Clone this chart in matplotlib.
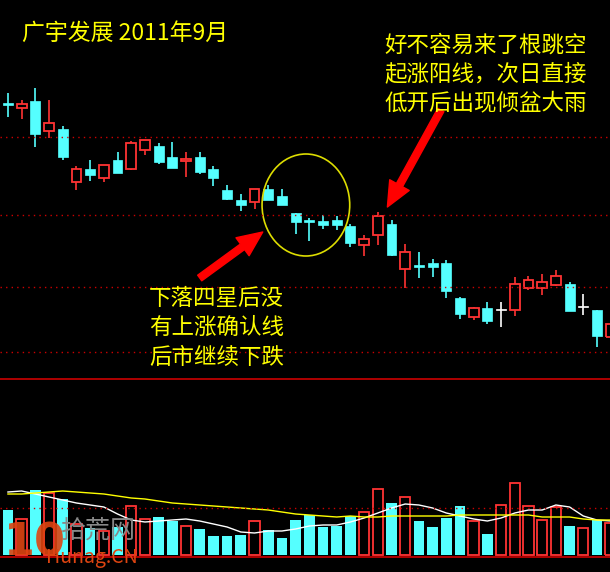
import matplotlib
matplotlib.use("Agg")
import matplotlib.pyplot as plt
from matplotlib.patches import Ellipse, Rectangle
import numpy as np

plt.rcParams['font.family'] = ['Noto Sans CJK SC', 'DejaVu Sans']

# 日K线 (开, 收, 高, 低)
opens  = [497, 492, 499, 469, 471, 418, 431, 422, 440, 431, 450, 454, 443, 439, 443,
          431, 410, 400, 398, 411, 404, 387, 380, 379, 380, 374, 355, 365, 376, 331,
          335, 337, 337, 302, 283, 292, 290, 290, 312, 312, 315, 316, 293, 290, 263]
closes = [495, 496, 466, 477, 443, 431, 425, 435, 427, 457, 460, 438, 432, 441, 428,
          422, 401, 395, 411, 400, 395, 378, 378, 375, 375, 357, 361, 384, 345, 348,
          333, 333, 309, 286, 292, 279, 290, 316, 320, 318, 324, 289, 293, 264, 276]
highs  = [507, 500, 512, 500, 474, 434, 440, 435, 448, 459, 460, 457, 458, 448, 448,
          434, 415, 406, 411, 415, 411, 387, 382, 385, 384, 376, 365, 388, 380, 356,
          348, 341, 340, 303, 293, 298, 298, 323, 324, 326, 330, 318, 306, 290, 280]
lows   = [483, 481, 453, 462, 440, 410, 419, 418, 427, 430, 445, 436, 432, 423, 426,
          414, 400, 389, 391, 400, 395, 366, 359, 371, 370, 353, 344, 355, 344, 312,
          322, 323, 302, 281, 280, 276, 273, 284, 310, 305, 314, 289, 285, 253, 260]

# 成交量及均量线
volume = [45, 36, 65, 62, 56, 31, 27, 24, 28, 49, 36, 38, 34, 29, 26,
          19, 19, 20, 34, 25, 17, 35, 40, 28, 29, 39, 43, 66, 52, 58,
          34, 28, 37, 49, 34, 21, 50, 72, 49, 35, 48, 29, 27, 35, 32]
vol_ma5 = [63, 64, 61, 58, 55, 52, 50, 48, 41, 35, 33, 34, 35, 36, 34,
           31, 28, 23, 22, 24, 24, 26, 29, 30, 30, 33, 37, 42, 47, 51,
           50, 47, 42, 39, 36, 34, 37, 42, 45, 45, 50, 48, 39, 35, 34]
vol_ma10 = [61, 61, 62, 63, 64, 63, 62, 61, 59, 57, 56, 54, 52, 51, 50,
            49, 48, 47, 46, 45, 43, 41, 40, 39, 38, 39, 38, 38, 39, 39,
            39, 39, 39, 40, 40, 40, 40, 40, 40, 38, 38, 38, 36, 35, 35]

UP = '#ff3333'
DOWN = '#55ffff'

fig = plt.figure(figsize=(6.10, 5.72), dpi=100, facecolor='black')
ax = fig.add_axes([0, 192 / 572, 1, 380 / 572], facecolor='black')
vax = fig.add_axes([0, 0, 1, 132 / 572], facecolor='black')

x = np.arange(len(opens))
bw = 0.72
for i in x:
    o, c, h, l = opens[i], closes[i], highs[i], lows[i]
    if c > o:
        col = UP
    elif c < o:
        col = DOWN
    else:
        col = 'white'
    lo, hi = min(o, c), max(o, c)
    if col == UP:
        ax.vlines(i, hi, h, color=col, lw=1.2)
        ax.vlines(i, l, lo, color=col, lw=1.2)
        ax.add_patch(Rectangle((i - bw / 2, lo), bw, hi - lo, fill=False, edgecolor=col, lw=1.3))
    else:
        ax.vlines(i, l, h, color=col, lw=1.2)
        ax.add_patch(Rectangle((i - bw / 2, lo), bw, max(hi - lo, 1.2), facecolor=col, edgecolor=col, lw=0.5))

for lvl in [463, 385, 313, 248]:
    ax.axhline(lvl, color='#cc0000', lw=1, ls=(0, (1, 3)))
ax.axhline(221, color='#cc0000', lw=1.2)
ax.set_xlim(-0.58, 43.95)
ax.set_ylim(220, 600)
ax.axis('off')

ax.add_patch(Ellipse((21.75, 395), 6.4, 102, fill=False, edgecolor='#dddd00', lw=1.2))
ax.annotate('', xy=(18.6, 368), xytext=(14.0, 322),
            arrowprops=dict(facecolor='#ff0000', edgecolor='#ff0000', width=5, headwidth=16, headlength=18))
ax.annotate('', xy=(27.7, 393), xytext=(31.6, 490),
            arrowprops=dict(facecolor='#ff0000', edgecolor='#ff0000', width=5, headwidth=16, headlength=18))

# 成交量
for i in x:
    if closes[i] >= opens[i]:
        vax.add_patch(Rectangle((i - 0.38, 0), 0.76, volume[i], fill=False, edgecolor=UP, lw=1.3))
    else:
        vax.bar(i, volume[i], 0.78, color=DOWN)
vax.plot(x, vol_ma5, color='white', lw=1)
vax.plot(x, vol_ma10, color='yellow', lw=1)
vax.axhline(47, color='#cc0000', lw=1, ls=(0, (1, 3)))
vax.axhline(-2, color='#cc0000', lw=1.2)
vax.set_xlim(-0.58, 43.95)
vax.set_ylim(-17, 115)
vax.axis('off')

fig.text(22 / 610, 1 - 33 / 572, '广宇发展 2011年9月', color='yellow', fontsize=16.5, va='center')
for k, s in enumerate(['好不容易来了根跳空', '起涨阳线，次日直接', '低开后出现倾盆大雨']):
    fig.text(384 / 610, 1 - (45 + 29 * k) / 572, s, color='yellow', fontsize=16.2, va='center')
for k, s in enumerate(['下落四星后没', '有上涨确认线', '后市继续下跌']):
    fig.text(149 / 610, 1 - (298 + 29.5 * k) / 572, s, color='yellow', fontsize=16.2, va='center')

# 水印
fig.text(4 / 610, 1 - 543 / 572, '10', color='#dd4411', fontsize=32, fontweight='bold',
         va='center', alpha=0.9, family='DejaVu Sans Condensed' if False else 'Liberation Sans Narrow')
fig.text(60 / 610, 1 - 531 / 572, '拾荒网', color='#888888', fontsize=18, va='center')
fig.text(46 / 610, 1 - 557 / 572, 'Hunag.CN', color='#dd4411', fontsize=14, va='center')

fig.savefig('out.png', dpi=100, facecolor='black')
